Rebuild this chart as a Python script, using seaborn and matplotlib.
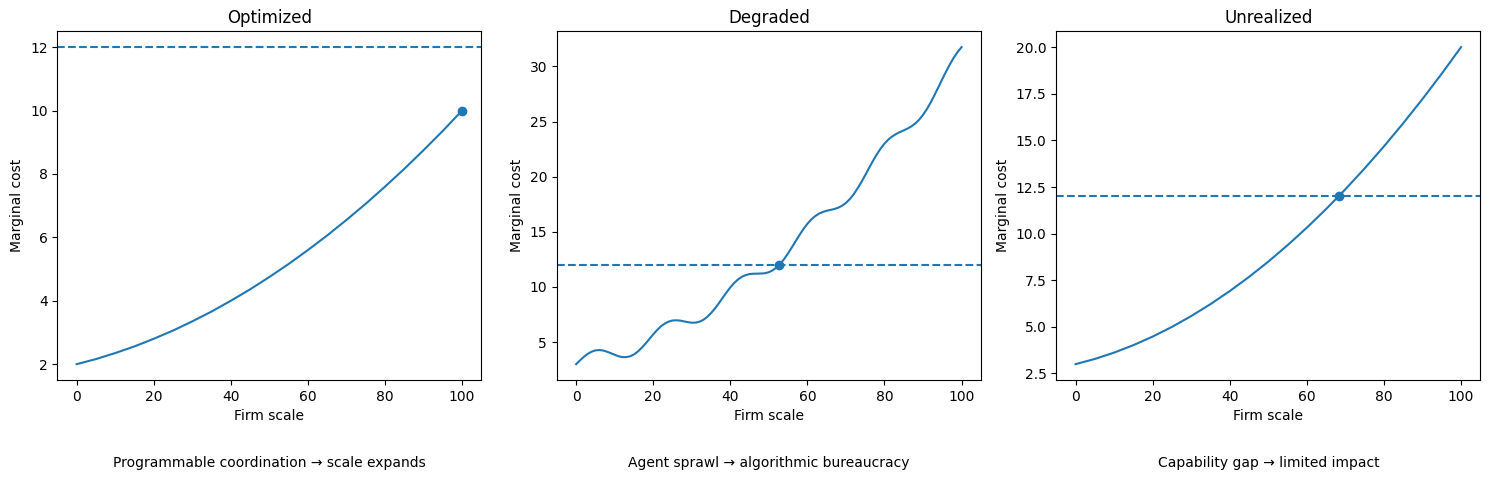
import matplotlib
matplotlib.use("Agg")
import matplotlib.pyplot as plt
import seaborn as sns
import pandas as pd

# ---- data ----
titles = ["Optimized", "Degraded", "Unrealized"]
captions = [
    "Programmable coordination \u2192 scale expands",
    "Agent sprawl \u2192 algorithmic bureaucracy",
    "Capability gap \u2192 limited impact",
]
threshold = 12

opt_x = [0, 5, 10, 15, 20, 25, 30, 35, 40, 45, 50, 55, 60, 65, 70, 75, 80, 85, 90, 95, 100]
opt_y = [2.00, 2.16, 2.35, 2.56, 2.80, 3.06, 3.35, 3.66, 4.00, 4.36, 4.75,
         5.16, 5.60, 6.06, 6.55, 7.06, 7.60, 8.16, 8.75, 9.36, 10.00]

deg_x = list(range(0, 101))
deg_y = [3.00, 3.34, 3.66, 3.93, 4.13, 4.25, 4.28, 4.24, 4.13, 4.00,
         3.85, 3.72, 3.64, 3.64, 3.71, 3.88, 4.14, 4.48, 4.86, 5.28,
         5.70, 6.09, 6.43, 6.68, 6.86, 6.96, 6.98, 6.95, 6.88, 6.81,
         6.76, 6.77, 6.85, 7.02, 7.28, 7.63, 8.04, 8.51, 9.01, 9.50,
         9.96, 10.36, 10.68, 10.92, 11.08, 11.17, 11.20, 11.21, 11.22, 11.25,
         11.34, 11.51, 11.77, 12.12, 12.55, 13.06, 13.61, 14.18, 14.74, 15.27,
         15.73, 16.12, 16.42, 16.65, 16.80, 16.91, 16.99, 17.07, 17.19, 17.37,
         17.62, 17.97, 18.40, 18.93, 19.51, 20.14, 20.79, 21.43, 22.02, 22.55,
         23.00, 23.37, 23.65, 23.87, 24.05, 24.20, 24.37, 24.57, 24.83, 25.17,
         25.61, 26.13, 26.74, 27.42, 28.13, 28.85, 29.55, 30.21, 30.81, 31.32,
         31.75]

unr_x = [0, 5, 10, 15, 20, 25, 30, 35, 40, 45, 50, 55, 60, 65, 70, 75, 80, 85, 90, 95, 100]
unr_y = [3.00, 3.28, 3.62, 4.02, 4.48, 5.00, 5.58, 6.22, 6.92, 7.68, 8.50,
         9.38, 10.32, 11.32, 12.38, 13.50, 14.68, 15.92, 17.22, 18.58, 20.00]

marker_x = [100, 52.7, 68.3]
marker_y = [10, 12, 12]

series = [(opt_x, opt_y), (deg_x, deg_y), (unr_x, unr_y)]

fig, axes = plt.subplots(1, 3, figsize=(14.9, 4.8), dpi=100)
fig.subplots_adjust(left=0.0385, right=0.9935, bottom=0.2083, top=0.9348, wspace=0.178)

color = sns.color_palette()[0]
for i, ax in enumerate(axes):
    xs, ys = series[i]
    df = pd.DataFrame({"x": xs, "y": ys})
    sns.lineplot(data=df, x="x", y="y", ax=ax, color=color, linewidth=1.5)
    ax.axhline(threshold, color=color, linestyle="--", linewidth=1.5)
    ax.plot([marker_x[i]], [marker_y[i]], "o", color=color, markersize=6)
    ax.set_title(titles[i], fontsize=12)
    ax.set_xlabel("Firm scale")
    ax.set_ylabel("Marginal cost")
    ax.text(0.5, -0.238, captions[i], transform=ax.transAxes,
            ha="center", va="center", fontsize=10)

fig.savefig("out.png", dpi=100)
